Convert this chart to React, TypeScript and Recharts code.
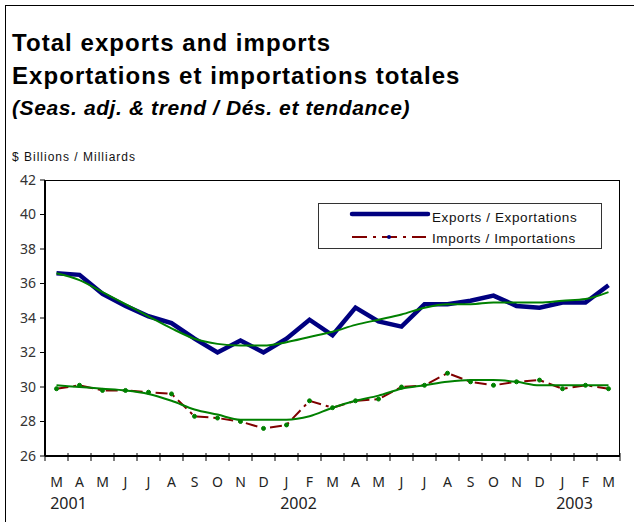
import React from "react";
import { LineChart, Line, XAxis, YAxis } from "recharts";

// Monthly series, March 2001 to March 2003 ($ billions)
const months = ["M", "A", "M", "J", "J", "A", "S", "O", "N", "D", "J", "F", "M", "A", "M", "J", "J", "A", "S", "O", "N", "D", "J", "F", "M"];
const years = ["2001", "", "", "", "", "", "", "", "", "", "2002", "", "", "", "", "", "", "", "", "", "", "", "2003", "", ""];

const exportsSA = [36.6, 36.5, 35.4, 34.7, 34.1, 33.7, 32.8, 32.0, 32.7, 32.0, 32.8, 33.9, 33.0, 34.6, 33.8, 33.5, 34.8, 34.8, 35.0, 35.3, 34.7, 34.6, 34.9, 34.9, 35.9];
const exportsTrend = [36.6, 36.2, 35.5, 34.8, 34.1, 33.4, 32.8, 32.5, 32.4, 32.4, 32.6, 32.9, 33.2, 33.6, 33.9, 34.2, 34.6, 34.8, 34.8, 34.9, 34.9, 34.9, 35.0, 35.1, 35.5];
const importsSA = [29.9, 30.1, 29.8, 29.8, 29.7, 29.6, 28.3, 28.2, 28.0, 27.6, 27.8, 29.2, 28.8, 29.2, 29.3, 30.0, 30.1, 30.8, 30.3, 30.1, 30.3, 30.4, 29.9, 30.1, 29.9];
const importsTrend = [30.1, 30.0, 29.9, 29.8, 29.6, 29.2, 28.7, 28.4, 28.1, 28.1, 28.1, 28.3, 28.8, 29.2, 29.5, 29.9, 30.1, 30.3, 30.4, 30.4, 30.3, 30.1, 30.1, 30.1, 30.1];
const yTicks = [26, 28, 30, 32, 34, 36, 38, 40, 42];

const data = months.map((m, i) => ({
  idx: i,
  month: m,
  exp: exportsSA[i],
  expTrend: exportsTrend[i],
  imp: importsSA[i],
  impTrend: importsTrend[i],
}));

const PLOT_W = 575;
const BAND = PLOT_W / months.length;
const NAVY = "#000080";
const MAROON = "#800000";
const GREEN = "#008000";
const LABEL_FONT = "'Noto Sans', 'DejaVu Sans', sans-serif";

const MonthTick = (props: any) => {
  const { x, y, index } = props;
  const i = Number(index);
  return (
    <g>
      <line x1={x - BAND / 2} x2={x - BAND / 2} y1={y - 3} y2={y + 5} stroke="#000" />
      {i === months.length - 1 && (
        <line x1={x + BAND / 2} x2={x + BAND / 2} y1={y - 3} y2={y + 5} stroke="#000" />
      )}
      <text x={x} y={y + 31} textAnchor="middle" fontSize={14} fill="#222" fontFamily={LABEL_FONT}>
        {months[i]}
      </text>
      {years[i] && (
        <text x={x + 12} y={y + 53} textAnchor="middle" fontSize={16} fill="#222" fontFamily={LABEL_FONT}>
          {years[i]}
        </text>
      )}
    </g>
  );
};

export default function App() {
  return (
    <div
      style={{
        position: "absolute",
        left: 0,
        top: 0,
        width: 634,
        height: 522,
        background: "#fff",
        fontFamily: "'Liberation Sans', Arial, sans-serif",
        overflow: "hidden",
      }}
    >
      {/* frame (top and left edges only) */}
      <div style={{ position: "absolute", left: 5, top: 5, right: 0, bottom: 0, borderTop: "1px solid #000", borderLeft: "1px solid #000" }} />

      <div style={{ position: "absolute", left: 12, top: 29, fontSize: 24, fontWeight: "bold", letterSpacing: 1.05, color: "#000", whiteSpace: "nowrap" }}>
        Total exports and imports
      </div>
      <div style={{ position: "absolute", left: 12, top: 62, fontSize: 24, fontWeight: "bold", letterSpacing: 1.05, color: "#000", whiteSpace: "nowrap" }}>
        Exportations et importations totales
      </div>
      <div style={{ position: "absolute", left: 12, top: 96, fontSize: 21, fontWeight: "bold", fontStyle: "italic", letterSpacing: 0.6, color: "#000", whiteSpace: "nowrap" }}>
        (Seas. adj. &amp; trend / Dés. et tendance)
      </div>
      <div style={{ position: "absolute", left: 12, top: 150, fontSize: 12, letterSpacing: 1, color: "#111", whiteSpace: "nowrap" }}>
        $ Billions / Milliards
      </div>

      <div style={{ position: "absolute", left: 0, top: 0 }}>
        <LineChart width={634} height={522} data={data} margin={{ top: 180, right: 14, bottom: 0, left: 0 }}>
          <XAxis
            dataKey="idx"
            type="category"
            height={66}
            padding={{ left: BAND / 2, right: BAND / 2 }}
            axisLine={{ stroke: "#000", strokeWidth: 2 }}
            tickLine={false}
            tickSize={0}
            tickMargin={0}
            interval={0}
            tick={<MonthTick />}
          />
          <YAxis
            width={45}
            domain={[26, 42]}
            ticks={yTicks}
            interval={0}
            allowDataOverflow
            axisLine={{ stroke: "#000", strokeWidth: 2 }}
            tickLine={{ stroke: "#000" }}
            tickSize={5}
            tickMargin={4}
            tick={{ fontSize: 14, fill: "#333", fontFamily: LABEL_FONT }}
          />
          <Line dataKey="exp" stroke={NAVY} strokeWidth={4.5} dot={false} isAnimationActive={false} />
          <Line dataKey="expTrend" type="monotone" stroke={GREEN} strokeWidth={2} dot={false} isAnimationActive={false} />
          <Line
            dataKey="imp"
            stroke={MAROON}
            strokeWidth={2}
            strokeDasharray="12 5 3 5"
            dot={{ r: 2, fill: GREEN, stroke: GREEN, strokeWidth: 1, strokeDasharray: "" }}
            isAnimationActive={false}
          />
          <Line dataKey="impTrend" type="monotone" stroke={GREEN} strokeWidth={2} dot={false} isAnimationActive={false} />
        </LineChart>
      </div>

      {/* plot area border */}
      <div style={{ position: "absolute", left: 45, top: 180, width: PLOT_W, height: 276, boxSizing: "border-box", border: "1px solid #000", pointerEvents: "none" }} />

      {/* legend */}
      <div style={{ position: "absolute", left: 318, top: 203, width: 284, height: 46, boxSizing: "border-box", border: "1px solid #333", background: "#fff" }}>
        <svg width={282} height={44} style={{ position: "absolute", left: 0, top: 0 }}>
          <line x1={33} x2={109} y1={10} y2={10} stroke={NAVY} strokeWidth={4.5} strokeLinecap="round" />
          <text x={113} y={18} fontSize={13.5} letterSpacing={0.6} fill="#111" fontFamily="'Liberation Sans', Arial, sans-serif">
            Exports / Exportations
          </text>
          <line x1={33} x2={107} y1={33} y2={33} stroke={MAROON} strokeWidth={2} strokeDasharray="15 6 3 6" />
          <circle cx={70} cy={33} r={2} fill={NAVY} />
          <text x={113} y={39} fontSize={13.5} letterSpacing={0.6} fill="#111" fontFamily="'Liberation Sans', Arial, sans-serif">
            Imports / Importations
          </text>
        </svg>
      </div>
    </div>
  );
}
